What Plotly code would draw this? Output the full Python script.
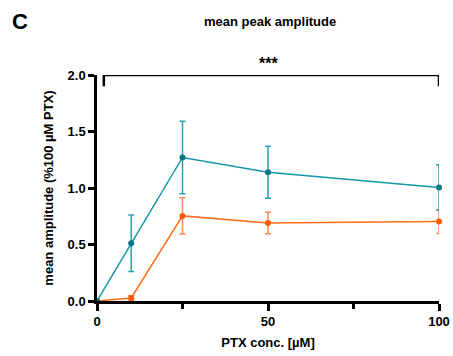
import plotly.graph_objects as go

conc = [0, 10, 25, 50, 100]
teal_mean = [0.0, 0.51, 1.27, 1.14, 1.005]
teal_err = [0.0, 0.25, 0.32, 0.23, 0.20]
orange_mean = [0.0, 0.027, 0.753, 0.69, 0.703]
orange_err = [0.0, 0.02, 0.16, 0.095, 0.105]

x_ticks = [0, 50, 100]
x_minor = [25, 75]
y_ticks = [0.0, 0.5, 1.0, 1.5, 2.0]

TEAL = "#1596a8"
TEAL_DARK = "#0b7585"
ORANGE = "#ff6d1a"
FONT = "Liberation Sans, Arial, sans-serif"

fig = go.Figure()
fig.add_trace(go.Scatter(
    x=conc, y=orange_mean, mode="lines+markers",
    line=dict(color=ORANGE, width=1.5),
    marker=dict(color="#ff5a00", size=6),
    error_y=dict(type="data", array=orange_err, visible=True, color="#ff8a4a", thickness=1.5, width=3),
    cliponaxis=False, showlegend=False))
fig.add_trace(go.Scatter(
    x=conc, y=teal_mean, mode="lines+markers",
    line=dict(color=TEAL, width=1.5),
    marker=dict(color=TEAL_DARK, size=6),
    error_y=dict(type="data", array=teal_err, visible=True, color="#2aa0b2", thickness=1.5, width=3),
    cliponaxis=False, showlegend=False))

# significance bracket
fig.add_shape(type="path", xref="x", yref="y",
              path="M 2,1.9 L 2,2.0 L 100,2.0 L 100,1.9",
              line=dict(color="black", width=2.5))
fig.add_annotation(x=50, y=2.0, xref="x", yref="y", text="<b>***</b>", showarrow=False,
                   yanchor="bottom", yshift=1, font=dict(size=16, color="black", family=FONT))
fig.add_annotation(x=-0.225, y=1.235, xref="paper", yref="paper", text="<b>C</b>", showarrow=False,
                   xanchor="center", yanchor="middle",
                   font=dict(size=22, color="black", family=FONT))
fig.add_annotation(x=0.505, y=1.235, xref="paper", yref="paper", text="<b>mean peak amplitude</b>",
                   xanchor="center", yanchor="middle",
                   showarrow=False, font=dict(size=13, color="black", family=FONT))

fig.update_layout(
    width=453, height=356,
    margin=dict(l=97, r=14, t=75, b=55),
    plot_bgcolor="white", paper_bgcolor="white",
    font=dict(family=FONT, color="black", size=13),
    xaxis=dict(range=[0, 100], tickvals=x_ticks, ticktext=["<b>%d</b>" % v for v in x_ticks],
               ticks="outside", ticklen=7, tickwidth=2.5, tickcolor="black",
               ticklabeloverflow="allow",
               minor=dict(tickvals=x_minor, ticks="outside", ticklen=5, tickwidth=2.5, tickcolor="black"),
               showline=True, linewidth=2.5, linecolor="black", showgrid=False, zeroline=False,
               automargin=False,
               title=dict(text="<b>PTX conc. [µM]</b>", font=dict(size=13), standoff=10),
               tickfont=dict(size=13)),
    yaxis=dict(range=[0, 2.0], tickvals=y_ticks, ticktext=["<b>%.1f</b>" % v for v in y_ticks],
               ticks="outside", ticklen=6, tickwidth=2.5, tickcolor="black",
               ticklabeloverflow="allow",
               showline=True, linewidth=2.5, linecolor="black", showgrid=False, zeroline=False,
               automargin=False,
               title=dict(text="<b>mean amplitude (%100 µM PTX)</b>", font=dict(size=13), standoff=12),
               tickfont=dict(size=13)),
)

fig.write_html("out.html", config={"displayModeBar": False},
               post_script="document.body.style.margin='0';document.body.style.overflow='hidden';")
